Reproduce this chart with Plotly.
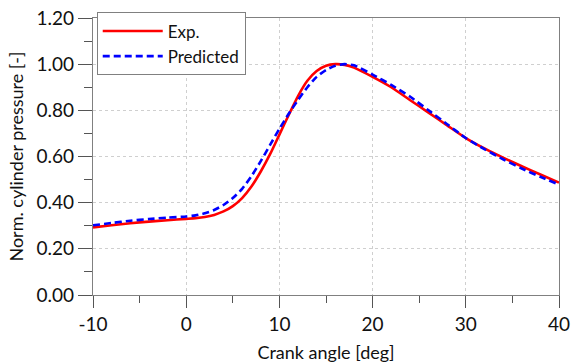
import plotly.graph_objects as go

exp_x = [-10, -8, -6, -4, -2, 0, 1, 2, 3, 4, 5, 6, 7, 8, 9, 10, 11, 12, 13, 14, 15, 16, 17, 18, 20, 22, 24, 26, 28, 30, 32, 34, 36, 38, 40]
exp_y = [0.293, 0.302, 0.311, 0.318, 0.324, 0.330, 0.333, 0.338, 0.347, 0.362, 0.385, 0.42, 0.47, 0.535, 0.61, 0.695, 0.78, 0.862, 0.928, 0.970, 0.993, 1.000, 0.997, 0.985, 0.945, 0.90, 0.845, 0.79, 0.735, 0.68, 0.635, 0.595, 0.558, 0.522, 0.487]

pred_x = [-10, -8, -6, -4, -2, 0, 1, 2, 3, 4, 5, 6, 7, 8, 9, 10, 11, 12, 13, 14, 15, 16, 17, 18, 20, 22, 24, 26, 28, 30, 32, 34, 36, 38, 40]
pred_y = [0.302, 0.312, 0.322, 0.329, 0.335, 0.340, 0.345, 0.354, 0.368, 0.39, 0.42, 0.46, 0.515, 0.58, 0.65, 0.72, 0.785, 0.845, 0.90, 0.945, 0.975, 0.993, 1.0, 0.995, 0.955, 0.91, 0.86, 0.80, 0.74, 0.68, 0.632, 0.588, 0.548, 0.512, 0.478]

x_ticks = [-10, 0, 10, 20, 30, 40]
y_ticks = [0.0, 0.2, 0.4, 0.6, 0.8, 1.0, 1.2]

FONT = "Lato"

fig = go.Figure()
fig.add_trace(go.Scatter(x=exp_x, y=exp_y, mode="lines", name="Exp.",
                         line=dict(color="#ff0000", width=2.6, shape="spline", smoothing=0.6)))
fig.add_trace(go.Scatter(x=pred_x, y=pred_y, mode="lines", name="Predicted",
                         line=dict(color="#0000ff", width=2.6, dash="7px,4px", shape="spline", smoothing=0.6)))

axis_common = dict(
    showline=True, linecolor="#808080", linewidth=1.2, mirror=True,
    showgrid=True, gridcolor="#cfcfcf", griddash="dot", gridwidth=1,
    ticks="outside", tickcolor="#555555", tickwidth=1,
    zeroline=False, automargin=False,
    tickfont=dict(family=FONT, size=19, color="#111111"),
)

fig.update_xaxes(
    range=[-10, 40], tickvals=x_ticks, ticktext=[str(v) for v in x_ticks],
    ticklen=12,
    minor=dict(dtick=5, tick0=-10, ticks="outside", ticklen=7, tickcolor="#555555", showgrid=False),
    title=dict(text="Crank angle [deg]", font=dict(family=FONT, size=18, color="#111111"), standoff=12),
    **axis_common)
fig.update_yaxes(
    range=[0, 1.2], tickvals=y_ticks, ticktext=[f"{v:.2f}" for v in y_ticks],
    ticklen=14,
    minor=dict(dtick=0.1, tick0=0, ticks="outside", ticklen=8, tickcolor="#555555", showgrid=False),
    title=dict(text="Norm. cylinder pressure [-]", font=dict(family=FONT, size=18, color="#111111"), standoff=8),
    **axis_common)

fig.update_layout(
    width=582, height=364,
    margin=dict(l=93, r=23, t=14, b=69),
    paper_bgcolor="white", plot_bgcolor="white",
    showlegend=True,
    legend=dict(x=0.008, y=1.02, xanchor="left", yanchor="top",
                bordercolor="#808080", borderwidth=1, bgcolor="white",
                font=dict(family=FONT, size=17, color="#111111"),
                itemwidth=60, tracegroupgap=0),
)

fig.write_html("out.html")
